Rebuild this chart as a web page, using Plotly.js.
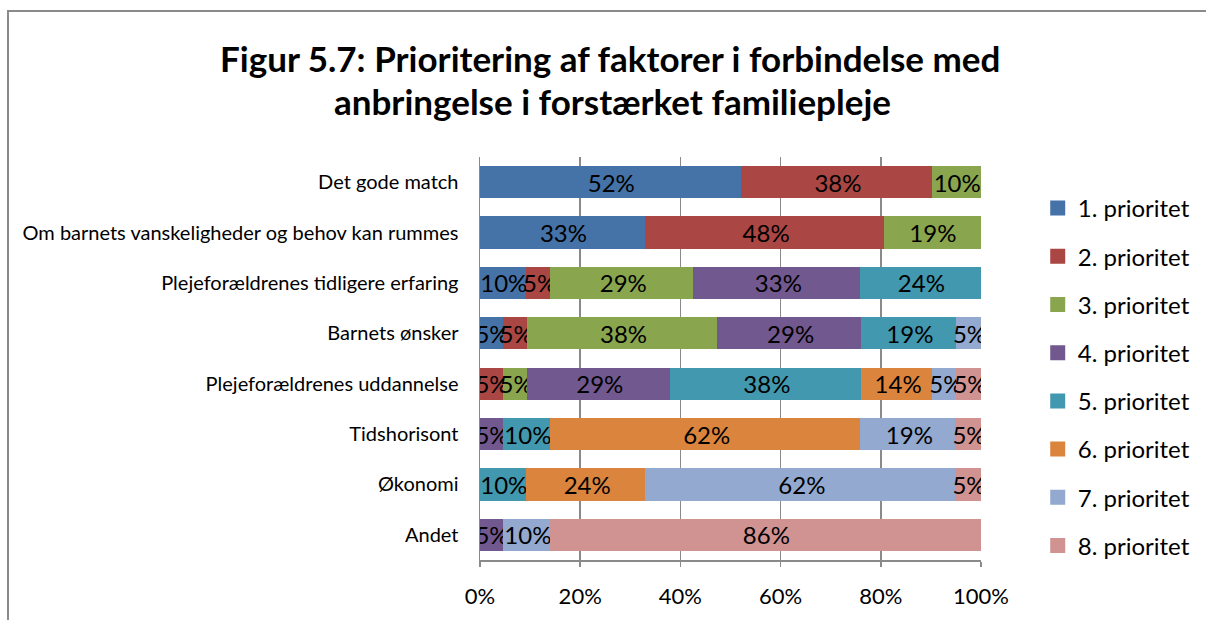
<!DOCTYPE html>
<html>
<head>
<meta charset="utf-8">
<script src="https://cdn.plot.ly/plotly-3.0.1.min.js"></script>
<style>
  html, body { margin: 0; padding: 0; background: #fff; }
  #wrap { position: relative; width: 1206px; height: 620px; overflow: hidden; }
  #chart { position: absolute; left: 0; top: 0; width: 1206px; height: 620px; }
  #frame { position: absolute; left: 7px; top: 10px; width: 1300px; height: 700px;
           border-left: 2px solid #8a8a8a; border-top: 2px solid #8a8a8a; pointer-events: none; }
</style>
</head>
<body>
<div id="wrap">
  <div id="chart"></div>
  <div id="frame"></div>
</div>
<script>
const categories = [
  "Det gode match",
  "Om barnets vanskeligheder og behov kan rummes",
  "Plejeforældrenes tidligere erfaring",
  "Barnets ønsker",
  "Plejeforældrenes uddannelse",
  "Tidshorisont",
  "Økonomi",
  "Andet"
];

const seriesNames = ["1. prioritet", "2. prioritet", "3. prioritet", "4. prioritet",
                     "5. prioritet", "6. prioritet", "7. prioritet", "8. prioritet"];

const p1 = [52.4, 33.3, 9.5, 4.8, null, null, null, null];
const p2 = [38.1, 47.6, 4.8, 4.8, 4.8, null, null, null];
const p3 = [9.5, 19.0, 28.6, 38.1, 4.8, null, null, null];
const p4 = [null, null, 33.3, 28.6, 28.6, 4.8, null, 4.8];
const p5 = [null, null, 23.8, 19.0, 38.1, 9.5, 9.5, null];
const p6 = [null, null, null, null, 14.3, 61.9, 23.8, null];
const p7 = [null, null, null, 4.8, 4.8, 19.0, 61.9, 9.5];
const p8 = [null, null, null, null, 4.8, 4.8, 4.8, 85.7];

const xTickVals = [0, 20, 40, 60, 80, 100];
const xTickText = ["0%", "20%", "40%", "60%", "80%", "100%"];

const titleLines = ["Figur 5.7: Prioritering af faktorer i forbindelse med",
                    "anbringelse i forstærket familiepleje"];

const series = [p1, p2, p3, p4, p5, p6, p7, p8];
const colors = ["#4572A7", "#AA4643", "#89A54E", "#71588F", "#4198AF", "#DB843D", "#93A9CF", "#D19392"];

const FONT = "Lato, 'Open Sans', sans-serif";

const traces = series.map((vals, i) => ({
  type: "bar",
  orientation: "h",
  name: seriesNames[i],
  legendgroup: "g" + i,
  y: categories,
  x: vals,
  marker: { color: colors[i], line: { color: colors[i], width: 3 } },
  text: vals.map(v => v == null ? "" : Math.round(v) + "%"),
  textposition: "inside",
  insidetextanchor: "middle",
  constraintext: "none",
  textangle: 0,
  textfont: { family: FONT, size: 24, color: "#000" },
  hoverinfo: "name+x"
}));

// plot area: x 480..982, y 157..560
const px2x = px => (px - 480) / 502;
const px2y = py => (560 - py) / 403;

const layout = {
  width: 1206,
  height: 620,
  paper_bgcolor: "rgba(0,0,0,0)",
  plot_bgcolor: "#fff",
  barmode: "stack",
  bargap: 0.42,
  margin: { l: 480, r: 224, t: 157, b: 60, pad: 0 },
  annotations: [
    { text: "<b>" + titleLines[0] + "</b>", xref: "paper", yref: "paper",
      x: px2x(610), y: px2y(58), xanchor: "center", yanchor: "middle", showarrow: false,
      font: { family: FONT, size: 35, color: "#000" } },
    { text: "<b>" + titleLines[1] + "</b>", xref: "paper", yref: "paper",
      x: px2x(613), y: px2y(101), xanchor: "center", yanchor: "middle", showarrow: false,
      font: { family: FONT, size: 35, color: "#000" } }
  ],
  xaxis: {
    range: [0, 100],
    tickvals: xTickVals,
    ticktext: xTickText,
    showgrid: true,
    gridcolor: "#8a8a8a",
    gridwidth: 1.5,
    showline: true,
    linecolor: "#8a8a8a",
    linewidth: 1.5,
    ticks: "outside",
    ticklen: 5,
    tickcolor: "#8a8a8a",
    tickwidth: 1.5,
    ticklabelstandoff: 11,
    zeroline: false,
    tickfont: { family: FONT, size: 22, color: "#000" },
    fixedrange: true
  },
  yaxis: {
    type: "category",
    categoryorder: "array",
    categoryarray: categories,
    autorange: "reversed",
    showline: true,
    linecolor: "#8a8a8a",
    linewidth: 1.5,
    ticks: "",
    ticklabelstandoff: 16,
    showgrid: false,
    tickfont: { family: FONT, size: 20, color: "#000" },
    fixedrange: true
  },
  legend: {
    x: 1.111, xanchor: "left",
    y: px2y(377), yanchor: "middle",
    traceorder: "grouped",
    tracegroupgap: 14,
    font: { family: FONT, size: 24, color: "#000" },
    bgcolor: "rgba(0,0,0,0)",
    itemclick: false, itemdoubleclick: false
  },
  showlegend: true
};

Plotly.newPlot("chart", traces, layout, { displayModeBar: false, staticPlot: true });
</script>
</body>
</html>
